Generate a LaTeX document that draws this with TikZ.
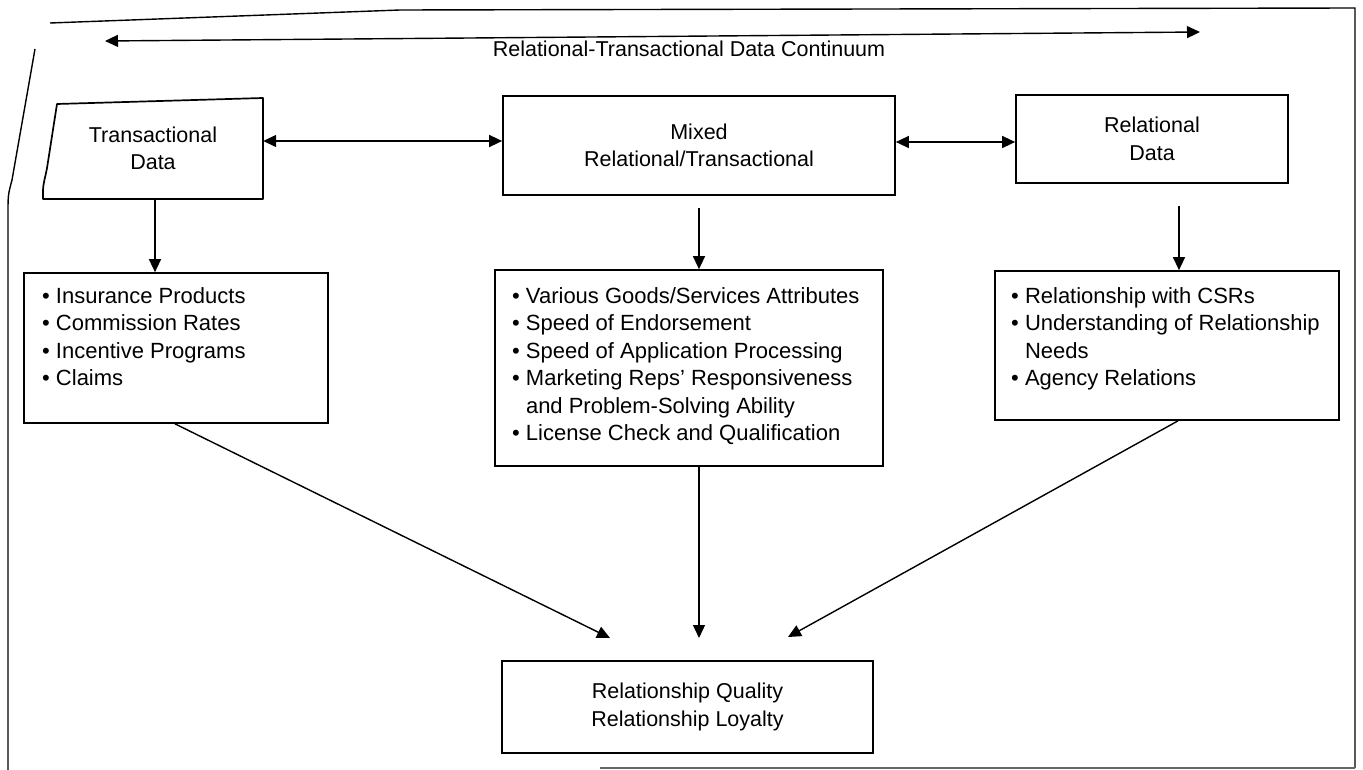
\documentclass[tikz,border=0pt]{standalone}
\usepackage{fontspec}
\setmainfont{Liberation Sans}
\usetikzlibrary{arrows.meta,calc}
\newcommand{\bul}{\textbullet\ }
\newcommand{\nobul}{\phantom{\textbullet\ }}
\begin{document}
\begin{tikzpicture}[x=1pt,y=-1pt,
  txt/.style={font=\fontsize{21.5}{27.5}\selectfont, align=center, inner sep=0pt},
  lst/.style={font=\fontsize{22}{27.5}\selectfont, inner sep=0pt, anchor=base west},
  box/.style={draw, line width=1.7pt, inner sep=0pt, font=\fontsize{21.5}{27.5}\selectfont, align=center},
  arr/.style={line width=1.4pt, -{Triangle[length=13pt,width=12pt]}},
  darr/.style={line width=1.4pt, {Triangle[length=13pt,width=12pt]}-{Triangle[length=13pt,width=12pt]}},
  frame/.style={line width=1.4pt}
]
\useasboundingbox (0,0) rectangle (1363,770);
% scanned frame
\draw[frame] (50,23) -- (400,10) -- (1355,8) -- (1355,768);
\draw[frame, black!60] (600,768) -- (1355,768);
\draw[frame] (35,49) -- (12,180) .. controls (8,195) .. (8,215) -- (8,770);

% continuum
\coordinate (cL) at (105,41);
\coordinate (cR) at (1200,32);
\draw[darr] (cL) -- (cR);
\node[txt] (cont) at (689,49) {Relational-Transactional Data Continuum};

% top row
\draw[line width=1.7pt, line join=round] (57,104) -- (263,98) -- (263,199) -- (43,199) -- (43,192) .. controls (43,182) and (45.5,178) .. (47.5,165) -- cycle;
\node[txt, minimum width=220pt, minimum height=101pt] (td) at (153,148.5) {Transactional\\Data};
\node[box, minimum width=392pt, minimum height=99pt] (mx) at (699,145.5) {Mixed\\Relational/Transactional};
\node[box, minimum width=272pt, minimum height=88pt] (rd) at (1152,139) {Relational\\Data};

\coordinate (yA) at (0,141);
\coordinate (yB) at (0,142);
\draw[darr] (td.east |- yA) -- (mx.west |- yA);
\draw[darr] (mx.east |- yB) -- (rd.west |- yB);

% lists
\node[box, minimum width=304pt, minimum height=150pt] (b1) at (176,348) {};
\node[box, minimum width=388pt, minimum height=196pt] (b2) at (689,368) {};
\node[box, minimum width=344pt, minimum height=149pt] (b3) at (1167,345.5) {};

\node[lst] (l1a) at (42,303)   {\bul Insurance Products};
\node[lst] (l1b) at (42,330.5) {\bul Commission Rates};
\node[lst] (l1c) at (42,358)   {\bul Incentive Programs};
\node[lst] (l1d) at (42,385.5) {\bul Claims};

\node[lst] (l2a) at (512,303)   {\bul Various Goods/Services Attributes};
\node[lst] (l2b) at (512,330.5) {\bul Speed of Endorsement};
\node[lst] (l2c) at (512,358)   {\bul Speed of Application Processing};
\node[lst] (l2d) at (512,385.5) {\bul Marketing Reps' Responsiveness};
\node[lst] (l2e) at (512,413)   {\nobul and Problem-Solving Ability};
\node[lst] (l2f) at (512,440.5) {\bul License Check and Qualification};

\node[lst] (l3a) at (1011,303)   {\bul Relationship with CSRs};
\node[lst] (l3b) at (1011,330.5) {\bul Understanding of Relationship};
\node[lst] (l3c) at (1011,358)   {\nobul Needs};
\node[lst] (l3d) at (1011,385.5) {\bul Agency Relations};

\draw[arr] ([xshift=2pt]td.south) -- ([xshift=-21pt]b1.north);
\draw[arr, shorten <=12pt] (mx.south) -- ([xshift=10pt]b2.north);
\draw[arr, shorten <=22pt] ([xshift=27pt]rd.south) -- ([xshift=12pt]b3.north);

% bottom
\node[box, minimum width=371pt, minimum height=92pt] (rq) at (687.5,707) {Relationship Quality\\Relationship Loyalty};
\coordinate (tL) at (610,638);
\coordinate (tM) at (699,638);
\coordinate (tR) at (788,637);
\draw[arr] ([xshift=-1pt]b1.south) -- (tL);
\draw[arr] ([xshift=10pt]b2.south) -- (tM);
\draw[arr] ([xshift=11pt]b3.south) -- (tR);
\end{tikzpicture}
\end{document}
